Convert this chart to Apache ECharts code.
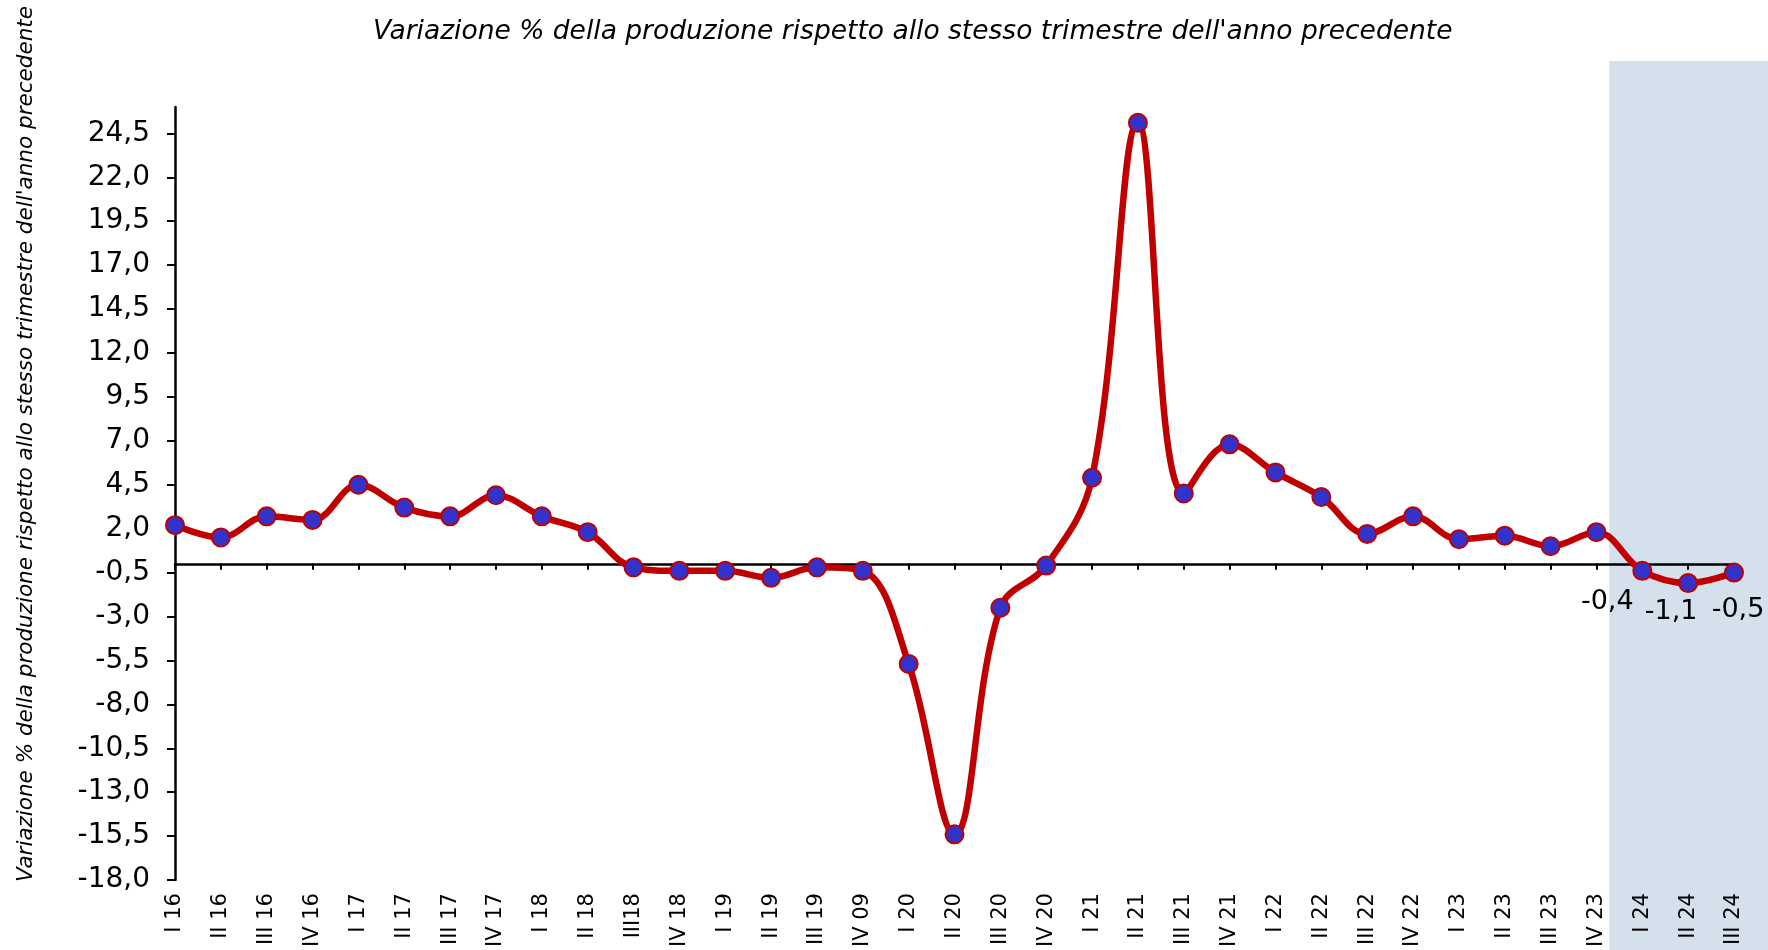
<!DOCTYPE html>
<html>
<head>
<meta charset="utf-8">
<script src="https://cdn.jsdelivr.net/npm/echarts@6/dist/echarts.min.js"></script>
<style>
  html, body { margin: 0; padding: 0; background: #fff; }
  #chart { width: 1768px; height: 950px; }
</style>
</head>
<body>
<div id="chart"></div>
<script>
const titleText = "Variazione % della produzione rispetto allo stesso trimestre dell'anno precedente"

// trimestri (etichette come nel grafico originale)
const quarters = [
  'I 16', 'II 16', 'III 16', 'IV 16',
  'I 17', 'II 17', 'III 17', 'IV 17',
  'I 18', 'II 18', 'III18', 'IV 18',
  'I 19', 'II 19', 'III 19', 'IV 09',
  'I 20', 'II 20', 'III 20', 'IV 20',
  'I 21', 'II 21', 'III 21', 'IV 21',
  'I 22', 'II 22', 'III 22', 'IV 22',
  'I 23', 'II 23', 'III 23', 'IV 23',
  'I 24', 'II 24', 'III 24'
]

// variazione % tendenziale
const variazione = [
  2.2, 1.5, 2.7, 2.5,
  4.5, 3.2, 2.7, 3.9,
  2.7, 1.8, -0.2, -0.4,
  -0.4, -0.8, -0.2, -0.4,
  -5.7, -15.4, -2.5, -0.1,
  4.9, 25.1, 4.0, 6.8,
  5.2, 3.8, 1.7, 2.7,
  1.4, 1.6, 1.0, 1.8,
  -0.4, -1.1, -0.5
]

// tacche asse y
const yTicks = [-18, -15.5, -13, -10.5, -8, -5.5, -3, -0.5, 2, 4.5, 7, 9.5, 12, 14.5, 17, 19.5, 22, 24.5]

// punti con etichetta (ultimi trimestri) e relativo spostamento
const labelOffsets = { 32: [-35, 3], 33: [-17, 0], 34: [4, 9] }

const fmt = (v) => v.toFixed(1).replace('.', ',')
const FONT = 'DejaVu Sans'

const chart = echarts.init(document.getElementById('chart'))

const seriesData = variazione.map((v, i) => {
  const off = labelOffsets[i]
  if (!off) return v
  return {
    value: v,
    label: {
      show: true,
      position: 'bottom',
      offset: off,
      formatter: (p) => fmt(p.value),
      fontFamily: FONT,
      fontSize: 27,
      color: '#000'
    }
  }
})

chart.setOption({
  animation: false,
  title: {
    text: titleText,
    left: 368,
    top: 14,
    textStyle: {
      fontFamily: FONT,
      fontStyle: 'italic',
      fontWeight: 'normal',
      fontSize: 26.5,
      color: '#000'
    }
  },
  grid: {
    left: 175,
    right: 34,
    top: 107,
    bottom: 68
  },
  xAxis: [
    {
      // linea dello zero con tacche
      type: 'category',
      data: quarters,
      boundaryGap: false,
      position: 'bottom',
      axisLine: { onZero: true, lineStyle: { color: '#000', width: 2.5 } },
      axisTick: { show: true, length: 6, lineStyle: { color: '#000', width: 2 } },
      axisLabel: { show: false },
      splitLine: { show: false }
    },
    {
      // etichette in basso
      type: 'category',
      data: quarters,
      boundaryGap: false,
      position: 'bottom',
      axisLine: { show: false, onZero: false },
      axisTick: { show: false },
      axisLabel: {
        rotate: 90,
        margin: 13,
        interval: 0,
        fontFamily: FONT,
        fontSize: 21,
        color: '#000'
      },
      splitLine: { show: false }
    }
  ],
  yAxis: {
    type: 'value',
    min: -18,
    max: 26,
    axisLine: { show: true, onZero: false, lineStyle: { color: '#000', width: 2.5 } },
    axisTick: { show: true, length: 8, customValues: yTicks, lineStyle: { color: '#000', width: 2 } },
    axisLabel: {
      customValues: yTicks,
      formatter: (v) => fmt(v),
      margin: 25,
      fontFamily: FONT,
      fontSize: 28,
      color: '#000'
    },
    splitLine: { show: false }
  },
  series: [
    {
      type: 'line',
      data: seriesData,
      xAxisIndex: 0,
      smooth: 0.38,
      symbol: 'circle',
      symbolSize: 18,
      lineStyle: { color: '#c00000', width: 6.5 },
      itemStyle: { color: '#3333cc', borderColor: '#c00000', borderWidth: 2 },
      z: 5
    }
  ]
})

// fascia evidenziata (ultimi trimestri) e titolo asse y
const xA = chart.convertToPixel({ xAxisIndex: 0 }, 'IV 23')
const xB = chart.convertToPixel({ xAxisIndex: 0 }, 'I 24')
const shadeLeft = xA + 0.28 * (xB - xA)

chart.setOption({
  graphic: [
    {
      type: 'rect',
      z: -10,
      silent: true,
      shape: { x: shadeLeft, y: 61, width: 1768 - shadeLeft, height: 950 - 61 },
      style: { fill: '#d5e0ed' }
    },
    {
      type: 'text',
      x: 26,
      y: 444,
      rotation: Math.PI / 2,
      style: {
        text: titleText,
        font: 'italic 21.5px "DejaVu Sans"',
        fill: '#000',
        align: 'center',
        verticalAlign: 'middle'
      }
    }
  ]
})
</script>
</body>
</html>
